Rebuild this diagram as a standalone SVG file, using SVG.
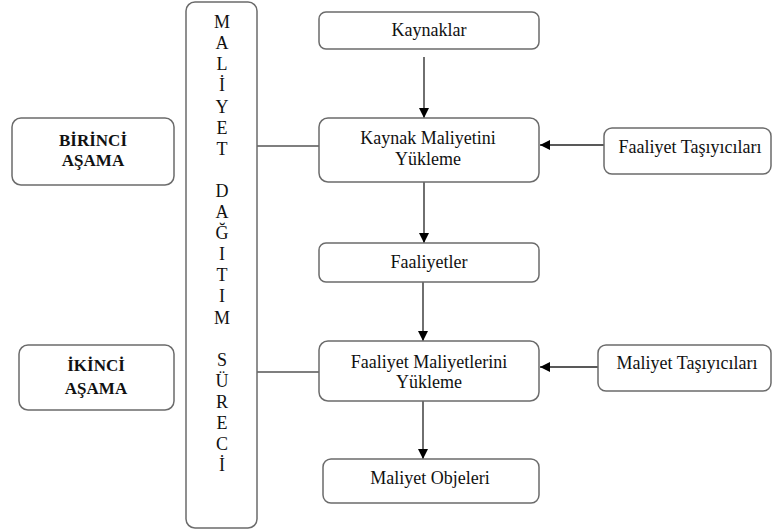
<svg xmlns="http://www.w3.org/2000/svg" width="773" height="532" viewBox="0 0 773 532">
<style>
.box{fill:#fff;stroke:#6b6b6b;stroke-width:1.5}
.t{font-family:"Liberation Serif","Times New Roman",serif;font-size:18px;fill:#111;text-anchor:middle}
.b{font-family:"Liberation Serif","Times New Roman",serif;font-size:17px;font-weight:bold;fill:#111;text-anchor:middle}
.c{stroke:#222;stroke-width:1.3;fill:none}
.p{stroke:#555;stroke-width:1.3;fill:none}
</style>
<defs>
<marker id="ah" viewBox="0 0 10 10" refX="10" refY="5" markerWidth="10" markerHeight="10" markerUnits="userSpaceOnUse" orient="auto">
<path d="M0,0 L10,5 L0,10 Z" fill="#000"/>
</marker>
</defs>
<g id="connectors">
<line class="p" x1="257" y1="146" x2="320" y2="146"/>
<line class="p" x1="257" y1="372" x2="320" y2="372"/>
<line class="c" x1="424" y1="57" x2="424" y2="118" marker-end="url(#ah)"/>
<line class="c" x1="424" y1="182" x2="424" y2="243" marker-end="url(#ah)"/>
<line class="c" x1="423" y1="282" x2="423" y2="341" marker-end="url(#ah)"/>
<line class="c" x1="423" y1="401" x2="423" y2="459" marker-end="url(#ah)"/>
<line class="c" x1="604" y1="145" x2="540" y2="145" marker-end="url(#ah)"/>
<line class="c" x1="598" y1="367" x2="540" y2="367" marker-end="url(#ah)"/>
</g>
<g id="birinci">
<rect class="box" x="12" y="118" width="162" height="67" rx="9"/>
<text class="b" x="93" y="146">BİRİNCİ</text>
<text class="b" x="93" y="166">AŞAMA</text>
</g>
<g id="ikinci">
<rect class="box" x="19" y="345" width="155" height="65" rx="9"/>
<text class="b" x="96" y="371">İKİNCİ</text>
<text class="b" x="96" y="394">AŞAMA</text>
</g>
<g id="surec">
<rect class="box" x="186" y="2" width="71" height="526" rx="9"/>
<text class="t" x="222" y="28">M</text>
<text class="t" x="222" y="49">A</text>
<text class="t" x="222" y="70">L</text>
<text class="t" x="222" y="91">İ</text>
<text class="t" x="222" y="113">Y</text>
<text class="t" x="222" y="134">E</text>
<text class="t" x="222" y="155">T</text>
<text class="t" x="222" y="197">D</text>
<text class="t" x="222" y="218">A</text>
<text class="t" x="222" y="239">Ğ</text>
<text class="t" x="222" y="260">I</text>
<text class="t" x="222" y="281">T</text>
<text class="t" x="222" y="302">I</text>
<text class="t" x="222" y="324">M</text>
<text class="t" x="222" y="366">S</text>
<text class="t" x="222" y="387">Ü</text>
<text class="t" x="222" y="408">R</text>
<text class="t" x="222" y="429">E</text>
<text class="t" x="222" y="450">C</text>
<text class="t" x="222" y="471">İ</text>
</g>
<g id="kaynaklar">
<rect class="box" x="319" y="12" width="220" height="37" rx="7"/>
<text class="t" x="429" y="36">Kaynaklar</text>
</g>
<g id="kaynak-maliyetini">
<rect class="box" x="319" y="118" width="220" height="64" rx="9"/>
<text class="t" x="428" y="144">Kaynak Maliyetini</text>
<text class="t" x="428" y="165">Yükleme</text>
</g>
<g id="faaliyet-tasiyicilari">
<rect class="box" x="604" y="128" width="167" height="46" rx="8"/>
<text class="t" x="690" y="153">Faaliyet Taşıyıcıları</text>
</g>
<g id="faaliyetler">
<rect class="box" x="319" y="243" width="220" height="39" rx="7"/>
<text class="t" x="429" y="268">Faaliyetler</text>
</g>
<g id="faaliyet-maliyetlerini">
<rect class="box" x="319" y="341" width="220" height="60" rx="9"/>
<text class="t" x="429" y="368">Faaliyet Maliyetlerini</text>
<text class="t" x="429" y="388">Yükleme</text>
</g>
<g id="maliyet-tasiyicilari">
<rect class="box" x="598" y="345" width="173" height="46" rx="8"/>
<text class="t" x="687" y="369">Maliyet Taşıyıcıları</text>
</g>
<g id="maliyet-objeleri">
<rect class="box" x="323" y="459" width="216" height="44" rx="8"/>
<text class="t" x="430" y="484">Maliyet Objeleri</text>
</g>
</svg>
